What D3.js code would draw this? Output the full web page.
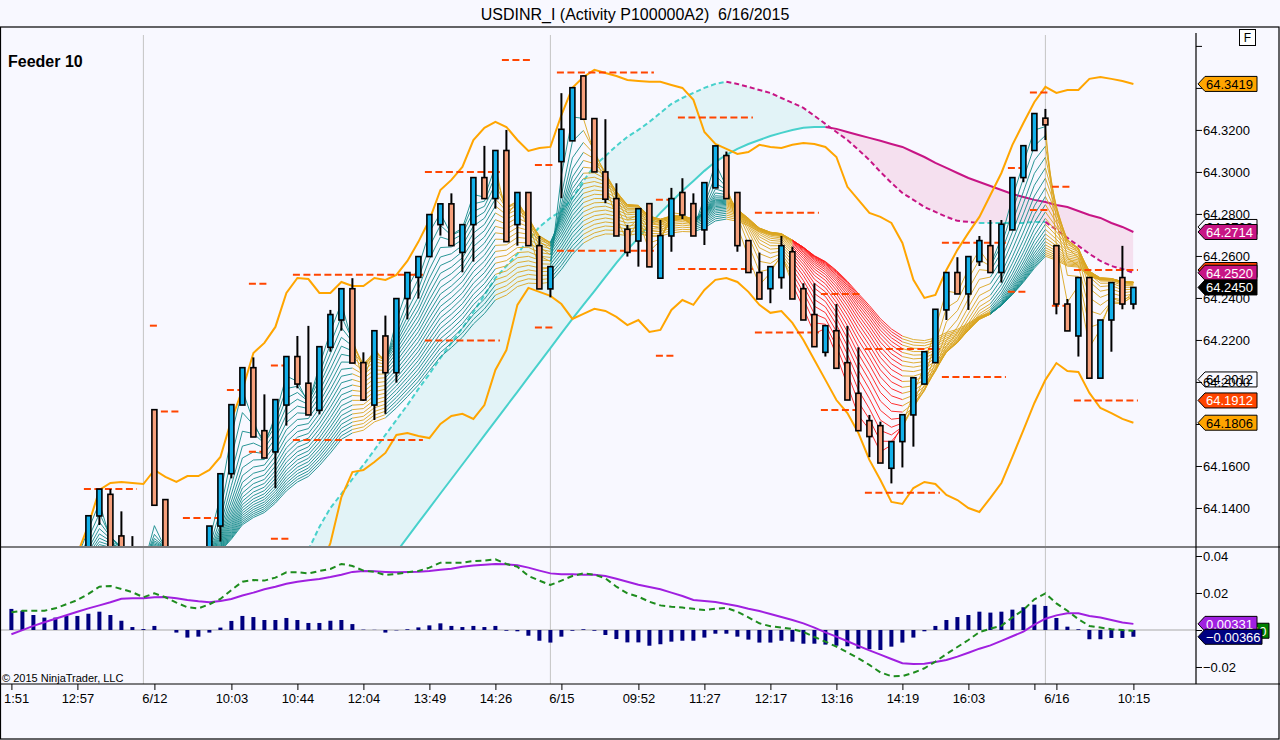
<!DOCTYPE html>
<html>
<head>
<meta charset="utf-8">
<script src="https://cdn.jsdelivr.net/npm/d3@7"></script>
<style>
  body { margin: 0; background: #F8F8FF; }
  text { font-family: "Liberation Sans", Arial, sans-serif; }
</style>
</head>
<body>
<script>
// ---- bar data, index 0 = first bar on the left ----
var opens = [64.105,64.108,64.104,64.101,64.109,64.112,64.115,64.118,64.1362,64.1465,
  64.1267,64.114,64.110,64.1868,64.1440,64.115,64.110,64.106,64.112,64.1314,
  64.1563,64.1890,64.2068,64.1768,64.1667,64.1890,64.2121,64.1994,64.1865,64.2165,
  64.2295,64.2444,64.2092,64.1890,64.2219,64.2044,64.2397,64.2498,64.2597,64.2749,
  64.2848,64.2617,64.2749,64.2973,64.2873,64.3102,64.2749,64.2902,64.2649,64.2443,
  64.3049,64.3148,64.3457,64.3254,64.3000,64.2873,64.2727,64.2671,64.2849,64.2494,
  64.2695,64.2902,64.2849,64.2724,64.2924,64.3078,64.2902,64.2673,64.2521,64.2444,
  64.2497,64.2620,64.2444,64.2321,64.2141,64.2244,64.2092,64.1946,64.1816,64.1792,
  64.1589,64.1716,64.1843,64.1990,64.2092,64.2343,64.2521,64.2419,64.2573,64.2649,
  64.2521,64.2724,64.2973,64.3102,64.3256,64.2649,64.2371,64.2219,64.2497,64.2018,
  64.2295,64.2497,64.2371];
var highs = [64.112,64.114,64.110,64.112,64.116,64.119,64.120,64.1365,64.1490,64.1490,
  64.1384,64.1266,64.118,64.1870,64.1440,64.120,64.118,64.118,64.1314,64.1565,
  64.1892,64.2068,64.2117,64.1941,64.1916,64.2121,64.2219,64.2267,64.2168,64.2343,
  64.2444,64.2494,64.2141,64.2244,64.2316,64.2397,64.2521,64.2597,64.2797,64.2848,
  64.2898,64.2749,64.2973,64.3124,64.3102,64.3200,64.2902,64.2902,64.2695,64.2549,
  64.3375,64.3401,64.3460,64.3254,64.3251,64.2946,64.2748,64.2825,64.2849,64.2771,
  64.2924,64.2970,64.2898,64.2949,64.3124,64.3097,64.2902,64.2673,64.2616,64.2549,
  64.2695,64.2644,64.2470,64.2470,64.2268,64.2371,64.2267,64.2165,64.1843,64.1811,
  64.1716,64.1844,64.2020,64.2144,64.2346,64.2521,64.2594,64.2597,64.2695,64.2771,
  64.2771,64.2973,64.3125,64.3278,64.3300,64.2649,64.2395,64.2497,64.2497,64.2295,
  64.2473,64.2648,64.2452];
var lows = [64.098,64.100,64.096,64.097,64.103,64.106,64.108,64.116,64.1319,64.112,
  64.110,64.105,64.100,64.1413,64.110,64.105,64.100,64.102,64.108,64.1240,
  64.1541,64.1890,64.1738,64.1638,64.1494,64.1792,64.1970,64.1843,64.1846,64.2144,
  64.2244,64.2090,64.1910,64.1819,64.1848,64.1997,64.2298,64.2397,64.2597,64.2697,
  64.2649,64.2522,64.2573,64.2873,64.2825,64.2668,64.2649,64.2649,64.2443,64.2403,
  64.2875,64.3148,64.3251,64.3000,64.2851,64.2695,64.2597,64.2549,64.2548,64.2494,
  64.2620,64.2775,64.2695,64.2652,64.2924,64.2873,64.2620,64.2521,64.2395,64.2375,
  64.2444,64.2395,64.2295,64.2168,64.2121,64.2065,64.1914,64.1768,64.1642,64.1614,
  64.1517,64.1593,64.1692,64.1990,64.2092,64.2295,64.2419,64.2343,64.2552,64.2521,
  64.2473,64.2724,64.2951,64.3102,64.3152,64.2322,64.2243,64.2121,64.2018,64.2018,
  64.2144,64.2346,64.2346];
var closes = [64.108,64.104,64.101,64.109,64.112,64.115,64.118,64.1363,64.1490,64.116,
  64.114,64.110,64.112,64.1413,64.115,64.110,64.106,64.112,64.1314,64.1563,
  64.1892,64.2068,64.1738,64.1638,64.1916,64.2121,64.1990,64.1843,64.2168,64.2321,
  64.2444,64.2090,64.1914,64.2244,64.2044,64.2397,64.2521,64.2597,64.2797,64.2848,
  64.2649,64.2749,64.2973,64.2873,64.3102,64.2668,64.2902,64.2649,64.2443,64.2549,
  64.3203,64.3401,64.3251,64.3000,64.2870,64.2695,64.2617,64.2825,64.2548,64.2697,
  64.2873,64.2795,64.2695,64.2949,64.3124,64.2873,64.2649,64.2521,64.2395,64.2549,
  64.2649,64.2395,64.2295,64.2168,64.2268,64.2065,64.1914,64.1768,64.1740,64.1614,
  64.1716,64.1844,64.2020,64.2144,64.2346,64.2521,64.2419,64.2597,64.2673,64.2521,
  64.2751,64.2973,64.3125,64.3278,64.3224,64.2371,64.2243,64.2497,64.2018,64.2295,
  64.2473,64.2371,64.2450];

// ---- bands (orange) ----
var upperBand = [null,null,null,null,null,null,64.1181,64.1319,64.1486,64.1519,
  64.1524,64.1519,64.1514,64.1581,64.1548,64.1524,64.1552,64.1552,64.1581,64.1643,
  64.1819,64.1962,64.2138,64.2186,64.2262,64.2424,64.2495,64.2490,64.2424,64.2424,
  64.2476,64.2457,64.2457,64.2495,64.2486,64.2510,64.2576,64.2667,64.2771,64.2914,
  64.2962,64.3024,64.3152,64.3210,64.3238,64.3214,64.3152,64.3100,64.3114,64.3119,
  64.3271,64.3400,64.3452,64.3486,64.3471,64.3457,64.3438,64.3433,64.3429,64.3429,
  64.3414,64.3400,64.3343,64.3190,64.3133,64.3110,64.3086,64.3095,64.3129,64.3119,
  64.3114,64.3129,64.3138,64.3133,64.3119,64.3071,64.2929,64.2867,64.2805,64.2786,
  64.2757,64.2662,64.2486,64.2400,64.2414,64.2533,64.2629,64.2710,64.2786,64.2890,
  64.2995,64.3129,64.3233,64.3333,64.3405,64.3376,64.3390,64.3390,64.3443,64.3452,
  64.3443,64.3433,64.3419];
var lowerBand = [null,null,null,null,null,null,null,null,null,null,
  null,null,null,null,null,null,null,null,null,null,
  null,null,null,null,null,null,null,null,64.1100,64.1233,
  64.1452,64.1571,64.1581,64.1619,64.1662,64.1748,64.1757,64.1743,64.1733,64.1800,
  64.1838,64.1848,64.1824,64.1890,64.2057,64.2152,64.2367,64.2448,64.2429,64.2410,
  64.2371,64.2300,64.2324,64.2348,64.2338,64.2310,64.2271,64.2295,64.2238,64.2248,
  64.2343,64.2390,64.2367,64.2438,64.2486,64.2495,64.2476,64.2429,64.2367,64.2329,
  64.2338,64.2281,64.2200,64.2105,64.2010,64.1914,64.1852,64.1757,64.1629,64.1533,
  64.1429,64.1419,64.1495,64.1524,64.1514,64.1462,64.1438,64.1400,64.1381,64.1448,
  64.1519,64.1643,64.1771,64.1900,64.2010,64.2090,64.2052,64.2048,64.1948,64.1876,
  64.1852,64.1824,64.1806];

// ---- cloud: dashed line (A) and solid line (B) ----
var cloudA = [null,null,null,null,null,null,null,null,null,null,
  null,null,null,null,null,null,null,null,null,null,
  null,null,null,null,null,null,null,64.1200,64.1310,64.1400,
  64.1467,64.1538,64.1605,64.1676,64.1748,64.1819,64.1890,64.1967,64.2038,64.2114,
  64.2186,64.2257,64.2333,64.2414,64.2495,64.2552,64.2610,64.2676,64.2738,64.2781,
  64.2814,64.2876,64.2957,64.3029,64.3076,64.3124,64.3167,64.3200,64.3238,64.3281,
  64.3324,64.3352,64.3376,64.3400,64.3419,64.3429,64.3419,64.3405,64.3390,64.3376,
  64.3352,64.3329,64.3305,64.3267,64.3229,64.3190,64.3152,64.3105,64.3057,64.3000,
  64.2948,64.2900,64.2867,64.2833,64.2810,64.2786,64.2767,64.2762,64.2757,64.2757,
  64.2757,64.2757,64.2757,64.2762,64.2762,64.2724,64.2686,64.2648,64.2610,64.2576,
  64.2552,64.2538,64.2520];
var cloudB = [null,null,null,null,null,null,null,null,null,null,
  null,null,null,null,null,null,null,null,null,null,
  null,null,null,null,null,null,null,null,null,null,
  null,null,null,null,null,64.1190,64.1260,64.1330,64.1399,64.1469,
  64.1538,64.1607,64.1676,64.1746,64.1815,64.1884,64.1953,64.2023,64.2092,64.2161,
  64.2231,64.2300,64.2367,64.2433,64.2500,64.2567,64.2629,64.2686,64.2748,64.2805,
  64.2857,64.2910,64.2957,64.3005,64.3048,64.3081,64.3110,64.3133,64.3152,64.3171,
  64.3186,64.3200,64.3210,64.3214,64.3214,64.3205,64.3190,64.3176,64.3162,64.3148,
  64.3133,64.3119,64.3095,64.3071,64.3043,64.3019,64.2995,64.2971,64.2952,64.2933,
  64.2914,64.2895,64.2881,64.2867,64.2857,64.2843,64.2833,64.2814,64.2795,64.2781,
  64.2757,64.2738,64.2714];

// ribbon trend colour per bar: t = up, g = mixed, r = down
var ribbonTrend = ("tttttttt" + "tttttttt" + "tttttttt" + "tttttttt" + "ggg" + "tttttttttt" +
  "ggggg" + "ttt" + "gggggggggg" + "ttt" + "gggggg" + "rrrrrrrrrr" + "gggggggg" +
  "ttttt" + "gggggggg").split("");
var ribbonPeriods = [2,3,4,5,6,7,8,9,10,11,12,13,14,15,16,17,18,19,20,21,22,23];

// ---- session levels (dashed orange-red), bar ranges ----
var levelFrom = [6.5,12.5,13.5,15.5,19.5,21.5,23.5,25.5,37.5,44.5,47.5,49.5,58.5,60.5,67.5,73.5,77.5,84.5,90.5,92.5,94.5,96.5];
var levelTo   = [11.5,13.5,15.5,19.5,21.5,23.5,25.5,37.5,44.5,47.5,49.5,58.5,60.5,67.5,73.5,77.5,84.5,90.5,92.5,94.5,96.5,102.5];
var levelHigh = [64.1490,64.2268,64.1859,64.1352,64.1962,64.2468,64.2078,64.2511,64.3000,64.3533,64.3033,64.3473,64.2867,64.3259,64.2806,64.2419,64.2157,64.2663,64.3019,64.3378,64.2930,64.2533];
var levelLow  = [null,null,null,null,null,64.1668,64.1254,64.1724,64.2197,null,64.2259,64.2625,64.2125,64.2538,64.2235,64.1867,64.1473,64.2024,64.2429,64.2819,64.2363,64.1912];

// ---- lower panel (MACD) ----
var macdHist = [0.0114,0.0104,0.0081,0.0067,0.0067,0.0076,0.0076,0.0088,0.0099,0.0081,
  0.0050,0.0016,0.0005,0.0022,0.0000,-0.0014,-0.0041,-0.0036,-0.0014,0.0013,
  0.0049,0.0076,0.0070,0.0054,0.0054,0.0065,0.0054,0.0038,0.0038,0.0050,
  0.0054,0.0032,0.0002,0.0001,-0.0014,-0.0002,0.0004,0.0014,0.0025,0.0036,
  0.0022,0.0016,0.0022,0.0016,0.0022,-0.0004,-0.0007,-0.0031,-0.0058,-0.0068,
  -0.0036,-0.0004,0.0004,-0.0004,-0.0027,-0.0049,-0.0067,-0.0067,-0.0085,-0.0077,
  -0.0063,-0.0058,-0.0058,-0.0041,-0.0020,-0.0020,-0.0036,-0.0052,-0.0068,-0.0068,
  -0.0058,-0.0063,-0.0074,-0.0074,-0.0079,-0.0085,-0.0088,-0.0101,-0.0104,-0.0108,
  -0.0090,-0.0068,-0.0041,-0.0007,0.0022,0.0054,0.0070,0.0081,0.0099,0.0094,
  0.0099,0.0110,0.0123,0.0137,0.0130,0.0065,0.0018,0.0004,-0.0050,-0.0050,
  -0.0043,-0.0043,-0.00366];
var macdSignal = [-0.0023,-0.0001,0.0022,0.0042,0.0061,0.0080,0.0099,0.0117,0.0133,0.0150,
  0.0169,0.0171,0.0171,0.0177,0.0178,0.0171,0.0162,0.0155,0.0150,0.0157,
  0.0168,0.0186,0.0202,0.0220,0.0234,0.0250,0.0261,0.0269,0.0276,0.0286,
  0.0299,0.0314,0.0319,0.0317,0.0314,0.0312,0.0314,0.0315,0.0319,0.0326,
  0.0331,0.0342,0.0348,0.0353,0.0357,0.0355,0.0350,0.0337,0.0321,0.0306,
  0.0301,0.0301,0.0299,0.0299,0.0292,0.0277,0.0261,0.0245,0.0232,0.0220,
  0.0202,0.0184,0.0162,0.0157,0.0151,0.0141,0.0130,0.0115,0.0103,0.0086,
  0.0070,0.0054,0.0036,0.0013,-0.0013,-0.0036,-0.0061,-0.0086,-0.0110,-0.0133,
  -0.0157,-0.0180,-0.0184,-0.0182,-0.0173,-0.0162,-0.0144,-0.0123,-0.0101,-0.0083,
  -0.0059,-0.0034,-0.0009,0.0029,0.0061,0.0079,0.0090,0.0090,0.0076,0.0067,
  0.0054,0.0041,0.00331];
var macdLine = [0.0096,0.0104,0.0104,0.0104,0.0117,0.0139,0.0162,0.0195,0.0234,0.0238,
  0.0222,0.0204,0.0177,0.0198,0.0177,0.0148,0.0123,0.0117,0.0139,0.0168,
  0.0216,0.0261,0.0270,0.0267,0.0283,0.0312,0.0312,0.0306,0.0319,0.0330,
  0.0357,0.0346,0.0321,0.0314,0.0297,0.0303,0.0312,0.0319,0.0337,0.0364,
  0.0364,0.0364,0.0373,0.0375,0.0382,0.0357,0.0342,0.0292,0.0267,0.0243,
  0.0267,0.0292,0.0306,0.0299,0.0279,0.0234,0.0198,0.0180,0.0153,0.0133,
  0.0126,0.0121,0.0115,0.0108,0.0115,0.0119,0.0099,0.0068,0.0036,0.0020,
  0.0013,0.0005,-0.0011,-0.0038,-0.0063,-0.0090,-0.0121,-0.0153,-0.0189,-0.0229,
  -0.0250,-0.0249,-0.0231,-0.0207,-0.0171,-0.0130,-0.0092,-0.0054,-0.0011,0.0007,
  0.0023,0.0068,0.0108,0.0166,0.0198,0.0144,0.0104,0.0058,0.0022,0.0013,
  0.0004,0.0000,-0.0004];

// ---- axes ----
var priceTicks = [64.14,64.16,64.18,64.20,64.22,64.24,64.26,64.28,64.30,64.32,64.34,64.36];
// tick labels that sit fully under an opaque tag and are not shown
var priceTicksUnlabelled = [64.18,64.34,64.36];
var macdTicks = [-0.02,0,0.02,0.04];
var timeTickBars = [0,6,13,20,26,32,38,44,50,57,63,69,75,81,87,93,95,102];
var timeTickLabels = ["1:51","12:57","6/12","10:03","10:44","12:04","13:49","14:26","6/15","09:52","11:27","12:17","13:16","14:19","16:03","","6/16","10:15"];
var sessionBreaks = [12,49,94];
// extra plot values shown only as outlined tags on the price axis
var hiddenTags = [64.2738,64.2012];

var svgWidth = 1280, svgHeight = 740;
var lastBar = closes.length - 1;

var svg = d3.select("body").append("svg")
  .attr("width", svgWidth)
  .attr("height", svgHeight);

svg.append("rect").attr("width", svgWidth).attr("height", svgHeight).attr("fill", "#F8F8FF");

var xScale = d3.scaleLinear().domain([0, lastBar]).range([11.4, 1133.4]);
var yScale = d3.scaleLinear().domain([64.1219, 64.3690]).range([546, 27]);
var mScale = d3.scaleLinear().domain([-0.02919, 0.04432]).range([684, 548]);

var defs = svg.append("defs");
defs.append("clipPath").attr("id", "clipMain").append("rect")
  .attr("x", 0).attr("y", 28).attr("width", 1196).attr("height", 518);
defs.append("clipPath").attr("id", "clipLower").append("rect")
  .attr("x", 0).attr("y", 548).attr("width", 1196).attr("height", 136);

var mainG = svg.append("g").attr("clip-path", "url(#clipMain)");
var lowerG = svg.append("g").attr("clip-path", "url(#clipLower)");

// session separators
sessionBreaks.forEach(function(b) {
  mainG.append("line").attr("x1", xScale(b)).attr("x2", xScale(b)).attr("y1", 35).attr("y2", 546)
    .attr("stroke", "#C4C4C4").attr("stroke-width", 1);
  lowerG.append("line").attr("x1", xScale(b)).attr("x2", xScale(b)).attr("y1", 548).attr("y2", 684)
    .attr("stroke", "#C4C4C4").attr("stroke-width", 1);
});

// ---- cloud fill ----
var cloudIdx = d3.range(lastBar + 1).filter(function(i) { return cloudA[i] != null; });
var bOrBottom = function(i) { return cloudB[i] != null ? cloudB[i] : 64.10; };

defs.append("clipPath").attr("id", "aboveB").append("path")
  .attr("d", d3.area().x(function(i) { return xScale(i); })
    .y0(function(i) { return yScale(bOrBottom(i)); }).y1(0)(cloudIdx));
defs.append("clipPath").attr("id", "belowB").append("path")
  .attr("d", d3.area().x(function(i) { return xScale(i); })
    .y0(function(i) { return yScale(bOrBottom(i)); }).y1(svgHeight)(cloudIdx));

var between = d3.area()
  .x(function(i) { return xScale(i); })
  .y0(function(i) { return yScale(bOrBottom(i)); })
  .y1(function(i) { return yScale(cloudA[i]); });

mainG.append("g").attr("clip-path", "url(#aboveB)")
  .append("path").attr("d", between(cloudIdx)).attr("fill", "#E2F3F7");
mainG.append("g").attr("clip-path", "url(#belowB)")
  .append("path").attr("d", between(cloudIdx)).attr("fill", "#F5E0EF");

// group consecutive segments that share a colour
function colourRuns(values, colourOf) {
  var runs = [], cur = null;
  for (var i = 1; i < values.length; i++) {
    if (values[i] == null || values[i - 1] == null) { cur = null; continue; }
    var c = colourOf(i);
    if (!cur || cur.colour !== c) { cur = { colour: c, idx: [i - 1] }; runs.push(cur); }
    cur.idx.push(i);
  }
  return runs;
}

function drawRuns(g, values, colourOf, width, dash, opacity) {
  var line = d3.line().x(function(i) { return xScale(i); }).y(function(i) { return yScale(values[i]); });
  colourRuns(values, colourOf).forEach(function(run) {
    g.append("path").attr("d", line(run.idx))
      .attr("fill", "none")
      .attr("stroke", run.colour)
      .attr("stroke-width", width)
      .attr("stroke-dasharray", dash)
      .attr("stroke-opacity", opacity);
  });
}

var slopeColour = function(values) {
  return function(i) { return values[i] >= values[i - 1] ? "#48D1CC" : "#C71585"; };
};
drawRuns(mainG, cloudB, slopeColour(cloudB), 2, null, 1);
drawRuns(mainG, cloudA, slopeColour(cloudA), 2, "5,3", 1);

// ---- moving average ribbon ----
var trendColours = { t: "#138B8B", g: "#DAA520", r: "#FF1A1A" };
var ribbonG = mainG.append("g");
ribbonPeriods.forEach(function(n) {
  var alpha = 2 / (n + 1), ema = [];
  closes.forEach(function(c, i) { ema.push(i === 0 ? c : ema[i - 1] + alpha * (c - ema[i - 1])); });
  drawRuns(ribbonG, ema, function(i) { return trendColours[ribbonTrend[i]]; }, 1, null, 0.9);
});

// ---- bands ----
[upperBand, lowerBand].forEach(function(band) {
  drawRuns(mainG, band, function() { return "#FFA500"; }, 2, null, 1);
});

// ---- session levels ----
var levelG = mainG.append("g")
  .attr("stroke", "#FF4500").attr("stroke-width", 2).attr("stroke-dasharray", "7,3.5");
levelFrom.forEach(function(f, k) {
  [levelHigh[k], levelLow[k]].forEach(function(v) {
    if (v == null) return;
    levelG.append("line")
      .attr("x1", xScale(f) + 1).attr("x2", xScale(levelTo[k]) - 1)
      .attr("y1", yScale(v)).attr("y2", yScale(v));
  });
});

// ---- candles ----
var candleG = mainG.append("g").selectAll("g")
  .data(d3.range(lastBar + 1))
  .enter()
  .append("g");

candleG.append("line")
  .attr("x1", function(i) { return xScale(i); })
  .attr("x2", function(i) { return xScale(i); })
  .attr("y1", function(i) { return yScale(highs[i]); })
  .attr("y2", function(i) { return yScale(lows[i]); })
  .attr("stroke", "#000").attr("stroke-width", 2);

candleG.append("rect")
  .attr("x", function(i) { return xScale(i) - 2.5; })
  .attr("width", 5)
  .attr("y", function(i) { return yScale(Math.max(opens[i], closes[i])); })
  .attr("height", function(i) { return Math.max(1, Math.abs(yScale(opens[i]) - yScale(closes[i]))); })
  .attr("fill", function(i) { return closes[i] >= opens[i] ? "#12B0EA" : "#F6A07C"; })
  .attr("stroke", "#000").attr("stroke-width", 1.6);

// ---- lower panel ----
lowerG.append("line").attr("x1", 0).attr("x2", 1196)
  .attr("y1", mScale(0)).attr("y2", mScale(0))
  .attr("stroke", "#A8A8A8").attr("stroke-width", 1.2);

lowerG.selectAll(".hist")
  .data(d3.range(lastBar + 1))
  .enter()
  .append("rect")
  .attr("x", function(i) { return xScale(i) - 2; })
  .attr("width", 4)
  .attr("y", function(i) { return Math.min(mScale(0), mScale(macdHist[i])); })
  .attr("height", function(i) { return Math.abs(mScale(macdHist[i]) - mScale(0)); })
  .attr("fill", "#000080");

var mLine = function(values) {
  return d3.line().x(function(d, i) { return xScale(i); }).y(function(d) { return mScale(d); })(values);
};
lowerG.append("path").attr("d", mLine(macdSignal))
  .attr("fill", "none").attr("stroke", "#A020E0").attr("stroke-width", 2);
lowerG.append("path").attr("d", mLine(macdLine))
  .attr("fill", "none").attr("stroke", "#1E8C1E").attr("stroke-width", 2).attr("stroke-dasharray", "6,4");

// ---- frame ----
var frame = svg.append("g").attr("stroke", "#000").attr("stroke-width", 1.2);
frame.append("rect").attr("x", 0.5).attr("y", 27).attr("width", 1278.5).attr("height", 712).attr("fill", "none");
frame.append("line").attr("x1", 0).attr("x2", 1280).attr("y1", 547).attr("y2", 547);
frame.append("line").attr("x1", 0).attr("x2", 1280).attr("y1", 684).attr("y2", 684);
frame.append("line").attr("x1", 1196).attr("x2", 1196).attr("y1", 33).attr("y2", 547);
frame.append("line").attr("x1", 1196).attr("x2", 1196).attr("y1", 547).attr("y2", 684);

// ---- axes ----
var priceAxis = svg.append("g")
  .attr("transform", "translate(1196,0)")
  .call(d3.axisRight(yScale).tickValues(priceTicks).tickSize(6).tickPadding(1)
    .tickFormat(function(d) {
      var hidden = priceTicksUnlabelled.some(function(u) { return Math.abs(u - d) < 1e-6; });
      return hidden ? "" : d3.format(".4f")(d);
    }));
priceAxis.select(".domain").remove();
priceAxis.selectAll("text").attr("font-size", 13).attr("fill", "#000")
  .attr("font-family", "Liberation Sans, Arial, sans-serif");

var macdAxis = svg.append("g")
  .attr("transform", "translate(1196,0)")
  .call(d3.axisRight(mScale).tickValues(macdTicks).tickSize(6).tickPadding(1)
    .tickFormat(function(d) { return d === 0 ? "" : d3.format(".2f")(d); }));
macdAxis.select(".domain").remove();
macdAxis.selectAll("text").attr("font-size", 13).attr("fill", "#000")
  .attr("font-family", "Liberation Sans, Arial, sans-serif");

var timeAxis = svg.append("g")
  .attr("transform", "translate(0,684)")
  .call(d3.axisBottom(xScale).tickValues(timeTickBars).tickSize(6).tickPadding(4)
    .tickFormat(function(d, k) { return timeTickLabels[k]; }));
timeAxis.select(".domain").remove();
timeAxis.selectAll("text").attr("font-size", 13).attr("fill", "#000")
  .attr("font-family", "Liberation Sans, Arial, sans-serif");
timeAxis.selectAll("text").filter(function(d) { return d === 0; })
  .attr("text-anchor", "start").attr("x", -8);

// ---- axis tags ----
function tag(yPix, label, fill, ink, x0, w, size) {
  var h = 7.5;
  svg.append("path")
    .attr("d", "M" + x0 + "," + yPix + "L" + (x0 + 7) + "," + (yPix - h) + "L" + (x0 + w) + "," + (yPix - h) +
      "L" + (x0 + w) + "," + (yPix + h) + "L" + (x0 + 7) + "," + (yPix + h) + "Z")
    .attr("fill", fill).attr("stroke", "#000").attr("stroke-width", 1);
  svg.append("text").attr("x", x0 + 8).attr("y", yPix + 5)
    .attr("font-size", size).attr("fill", ink).text(label);
}
var f4 = d3.format(".4f"), f5 = d3.format(".5f");
var lastLevel = levelFrom.length - 1;

tag(yScale(hiddenTags[0]), f4(hiddenTags[0]), "none", "#000", 1198, 59, 13);
tag(yScale(cloudB[lastBar]), f4(cloudB[lastBar]), "#C71585", "#fff", 1198, 59, 13);
tag(yScale(levelHigh[lastLevel]), f4(levelHigh[lastLevel]), "#FF4500", "#fff", 1198, 59, 13);
tag(yScale(cloudA[lastBar]), f4(cloudA[lastBar]), "#C71585", "#fff", 1198, 59, 13);
tag(yScale(closes[lastBar]), f4(closes[lastBar]), "#000", "#fff", 1198, 59, 13);
tag(yScale(hiddenTags[1]), f4(hiddenTags[1]), "none", "#000", 1198, 59, 13);
tag(yScale(levelLow[lastLevel]), f4(levelLow[lastLevel]), "#FF4500", "#fff", 1198, 59, 13);
tag(yScale(lowerBand[lastBar]), f4(lowerBand[lastBar]), "#FFA500", "#000", 1198, 59, 13);
tag(yScale(upperBand[lastBar]), f4(upperBand[lastBar]), "#FFA500", "#000", 1198, 59, 13);

tag(mScale(macdLine[lastBar]), f5(macdLine[lastBar]), "#008000", "#fff", 1204, 65, 13);
tag(mScale(macdSignal[lastBar]), f5(macdSignal[lastBar]), "#A020E0", "#fff", 1198, 59, 13);
tag(mScale(macdHist[lastBar]), f5(macdHist[lastBar]), "#000080", "#fff", 1198, 64, 13);

// ---- texts ----
svg.append("text").attr("x", 635).attr("y", 19.5).attr("text-anchor", "middle")
  .attr("font-size", 16).attr("fill", "#000")
  .text("USDINR_I (Activity P100000A2)  6/16/2015").style("white-space", "pre");
svg.append("text").attr("x", 8).attr("y", 67).attr("font-size", 16).attr("font-weight", "bold")
  .attr("fill", "#000").text("Feeder 10");
svg.append("text").attr("x", 2).attr("y", 682).attr("font-size", 11).attr("fill", "#000")
  .text("\u00A9 2015 NinjaTrader, LLC");

svg.append("rect").attr("x", 1239.5).attr("y", 29.5).attr("width", 16).attr("height", 16)
  .attr("fill", "#fff").attr("stroke", "#000");
svg.append("text").attr("x", 1247.5).attr("y", 42).attr("text-anchor", "middle")
  .attr("font-size", 12).attr("fill", "#000").text("F");
</script>
</body>
</html>
